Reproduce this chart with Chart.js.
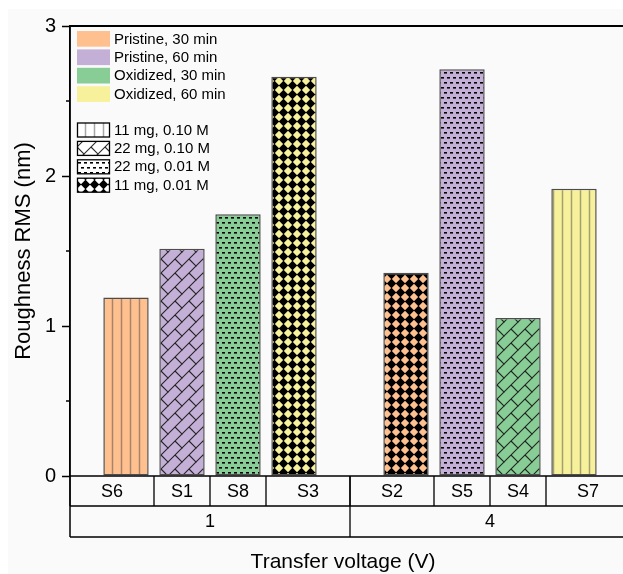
<!DOCTYPE html>
<html>
<head>
<meta charset="utf-8">
<script src="https://cdn.jsdelivr.net/npm/chart.js@4.4.1/dist/chart.umd.min.js"></script>
<style>
  html, body { margin: 0; padding: 0; background: #fff; overflow: hidden; }
  canvas { display: block; }
</style>
</head>
<body>
<canvas id="roughnessChart" width="640" height="574"></canvas>
<script>
// 데이터
const voltages = ['1', '4'];
const samples = ['S6', 'S1', 'S8', 'S3', 'S2', 'S5', 'S4', 'S7'];
const roughness = [1.19, 1.515, 1.745, 2.662, 1.355, 2.711, 1.053, 1.915];
const conditions = ['Pristine, 30 min', 'Pristine, 60 min', 'Oxidized, 30 min', 'Oxidized, 60 min'];
const treatments = ['11 mg, 0.10 M', '22 mg, 0.10 M', '22 mg, 0.01 M', '11 mg, 0.01 M'];
const sampleCondition = [0, 1, 2, 3, 0, 1, 2, 3];
const sampleTreatment = [0, 1, 2, 3, 3, 2, 1, 0];
const yTicks = [0, 1, 2, 3];

const conditionColors = ['#ffc08f', '#c4b0d6', '#88cd96', '#f7f19b'];
const FONT = '"Liberation Sans", Arial, sans-serif';
const perGroup = 4;

// 패턴 만들기
function makePattern(kind, fill) {
    const c = document.createElement('canvas');
    const g = c.getContext('2d');
    if (kind === 0) {
        c.width = 9; c.height = 9;
        g.fillStyle = fill; g.fillRect(0, 0, 9, 9);
        g.strokeStyle = 'rgba(60,60,60,0.45)';
        g.lineWidth = 1.5;
        g.beginPath(); g.moveTo(4.5, 0); g.lineTo(4.5, 9); g.stroke();
    } else if (kind === 1) {
        const s = 14;
        c.width = s; c.height = s;
        g.fillStyle = fill; g.fillRect(0, 0, s, s);
        g.strokeStyle = 'rgba(20,20,20,0.9)';
        g.lineWidth = 1.1;
        g.beginPath();
        g.moveTo(-1, s + 1); g.lineTo(s + 1, -1);
        g.moveTo(s / 2, s / 2); g.lineTo(s + 1, s + 1);
        g.moveTo(-1, -1); g.lineTo(0.5, 0.5);
        g.stroke();
    } else if (kind === 2) {
        c.width = 6; c.height = 10;
        g.fillStyle = fill; g.fillRect(0, 0, 6, 10);
        g.fillStyle = '#000';
        g.fillRect(0, 2, 3, 1.6);
        g.fillRect(3, 7, 3, 1.6);
    } else {
        c.width = 9; c.height = 9;
        g.fillStyle = fill; g.fillRect(0, 0, 9, 9);
        g.fillStyle = '#000';
        g.beginPath();
        g.moveTo(4.5, -0.3); g.lineTo(9.3, 4.5); g.lineTo(4.5, 9.3); g.lineTo(-0.3, 4.5);
        g.closePath(); g.fill();
    }
    return g.createPattern(c, 'repeat');
}

// 슬롯 구성 (그룹 사이 빈칸)
const slotLabels = [];
const slotValues = [];
const slotFills = [];
voltages.forEach((v, gi) => {
    slotLabels.push(''); slotValues.push(null); slotFills.push('transparent');
    for (let k = 0; k < perGroup; k++) {
        const i = gi * perGroup + k;
        slotLabels.push(samples[i]);
        slotValues.push(roughness[i]);
        slotFills.push(makePattern(sampleTreatment[i], conditionColors[sampleCondition[i]]));
    }
});
slotLabels.push(''); slotValues.push(null); slotFills.push('transparent');

// 표, 범례, 축선 그리기
const tablePlugin = {
    id: 'tablePlugin',
    beforeDraw(chart) {
        const ctx = chart.ctx;
        ctx.save();
        ctx.fillStyle = '#fafafa';
        ctx.fillRect(8, 9, chart.width, chart.height);
        ctx.restore();
    },
    afterDraw(chart) {
        const ctx = chart.ctx;
        const area = chart.chartArea;
        const x = chart.scales.x;
        const y = chart.scales.y;
        const top = area.bottom;
        const row1 = top + 30;
        const row2 = top + 61;
        const W = chart.width;

        ctx.save();
        ctx.strokeStyle = '#000';
        ctx.lineWidth = 1.3;
        ctx.beginPath();
        [top, row1, row2].forEach(yy => { ctx.moveTo(area.left, yy); ctx.lineTo(W, yy); });
        ctx.stroke();

        ctx.lineWidth = 1.5;
        ctx.beginPath();
        ctx.moveTo(area.left, area.top); ctx.lineTo(area.left, row2);
        ctx.stroke();

        ctx.lineWidth = 2;
        ctx.beginPath();
        ctx.moveTo(area.left, area.top); ctx.lineTo(W, area.top);
        ctx.stroke();

        // 보조 눈금
        ctx.lineWidth = 1.5;
        ctx.beginPath();
        [0.5, 1.5, 2.5].forEach(v => {
            const py = y.getPixelForValue(v);
            ctx.moveTo(area.left - 4, py); ctx.lineTo(area.left, py);
        });
        ctx.stroke();

        ctx.fillStyle = '#000';
        ctx.textAlign = 'center';
        ctx.textBaseline = 'middle';
        ctx.lineWidth = 1.3;
        voltages.forEach((v, gi) => {
            const start = gi * (perGroup + 1);
            const end = start + perGroup + 1;
            const edges = [start];
            for (let k = 1; k < perGroup; k++) edges.push(start + k + 0.5);
            edges.push(end);
            ctx.beginPath();
            edges.forEach(e => {
                const px = x.getPixelForValue(e);
                ctx.moveTo(px, top); ctx.lineTo(px, row1);
            });
            const gx = x.getPixelForValue(end);
            ctx.moveTo(gx, row1); ctx.lineTo(gx, row2);
            ctx.stroke();

            ctx.font = '18px ' + FONT;
            for (let k = 0; k < perGroup; k++) {
                const cx = (x.getPixelForValue(edges[k]) + x.getPixelForValue(edges[k + 1])) / 2;
                ctx.fillText(samples[gi * perGroup + k], cx, top + 16);
            }
            const gcx = (x.getPixelForValue(start) + x.getPixelForValue(end)) / 2;
            ctx.fillText(v, gcx, row1 + 16);
        });

        // x축 제목
        ctx.font = '21px ' + FONT;
        ctx.fillText('Transfer voltage (V)', 343, 562);

        // 범례
        ctx.textAlign = 'left';
        ctx.font = '15px ' + FONT;
        conditions.forEach((name, i) => {
            ctx.fillStyle = conditionColors[i];
            ctx.fillRect(77, 31 + i * 18.4, 33, 15.7);
            ctx.fillStyle = '#000';
            ctx.fillText(name, 114, 39.5 + i * 18.4);
        });
        treatments.forEach((name, i) => {
            const by = 123 + i * 18.4;
            ctx.fillStyle = makePattern(i, '#ffffff');
            ctx.fillRect(77.5, by, 32, 14);
            ctx.strokeStyle = '#000';
            ctx.lineWidth = 1.3;
            ctx.strokeRect(77.5, by, 32, 14);
            ctx.fillStyle = '#000';
            ctx.fillText(name, 114, by + 7.5);
        });
        ctx.restore();
    }
};

const ctx = document.getElementById('roughnessChart').getContext('2d');
const chart = new Chart(ctx, {
    type: 'bar',
    data: {
        labels: slotLabels,
        datasets: [{
            data: slotValues,
            backgroundColor: slotFills,
            borderColor: '#4d4d4d',
            borderWidth: 1.5,
            borderSkipped: false,
            categoryPercentage: 1,
            barPercentage: 0.81
        }]
    },
    options: {
        responsive: false,
        animation: false,
        layout: { padding: { top: 26, right: 10, left: 0, bottom: 0 } },
        plugins: {
            legend: { display: false },
            tooltip: { enabled: false }
        },
        scales: {
            x: {
                offset: false,
                grid: { display: false },
                border: { display: false },
                ticks: { display: false },
                afterFit(scale) { scale.height = 98; }
            },
            y: {
                min: 0,
                max: 3,
                grid: {
                    drawOnChartArea: false,
                    drawTicks: true,
                    tickLength: 8,
                    tickWidth: 1.5,
                    tickColor: c => yTicks.includes(c.tick.value) ? '#000' : 'transparent'
                },
                border: { display: true, color: '#000', width: 1.5 },
                ticks: {
                    stepSize: 0.5,
                    padding: 6,
                    color: '#000',
                    font: { family: FONT, size: 20 },
                    callback: v => yTicks.includes(v) ? String(v) : ''
                },
                title: {
                    display: true,
                    text: 'Roughness RMS (nm)',
                    color: '#000',
                    font: { family: FONT, size: 22 },
                    padding: { top: 11, bottom: 0 }
                },
                afterFit(scale) { scale.width = 70; }
            }
        }
    },
    plugins: [tablePlugin]
});
</script>
</body>
</html>
